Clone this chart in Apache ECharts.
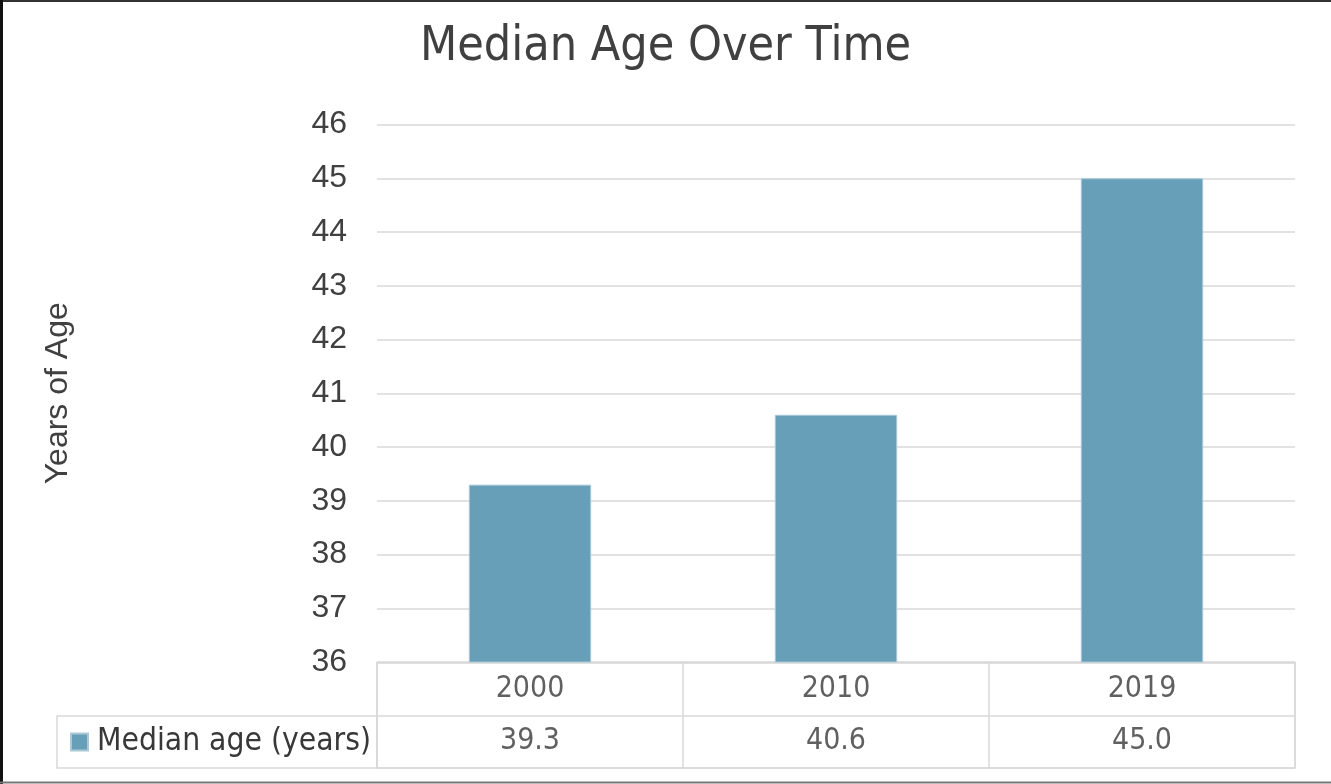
<!DOCTYPE html>
<html>
<head>
<meta charset="utf-8">
<title>Median Age Over Time</title>
<script src="https://cdn.jsdelivr.net/npm/echarts@6/dist/echarts.min.js"></script>
<style>
  html, body { margin: 0; padding: 0; background: #ffffff; }
  #chart { width: 1331px; height: 784px; }
</style>
</head>
<body>
<div id="chart"></div>
<script>
// Census years and the median age recorded for each
const years = ['2000', '2010', '2019'];
const medianAge = [39.3, 40.6, 45.0];
const seriesName = 'Median age (years)';
const yTicks = { min: 36, max: 46, interval: 1 };

const BAR = '#689fb8';
const GRID_LINE = '#d9d9d9';
const TEXT = '#404040';
const TABLE_TEXT = '#383838';
const NARROW = "'Liberation Sans Narrow', 'DejaVu Sans Condensed', 'Liberation Sans', sans-serif";
const SANS = "'Liberation Sans', Arial, sans-serif";

// Rows of the data table under the plot: year header and value row
const tableRows = ['value', 'header'];
const headerCells = years.map(y => [y, 'header', y]);
const valueCells = years.map((y, i) => [y, 'value', medianAge[i].toFixed(1)]);

const chart = echarts.init(document.getElementById('chart'), null, { renderer: 'canvas' });

chart.setOption({
  backgroundColor: '#ffffff',
  animation: false,
  title: {
    text: 'Median Age Over Time',
    left: 'center',
    top: 19,
    textStyle: { fontFamily: NARROW, fontSize: 48, fontWeight: 'normal', color: TEXT }
  },
  legend: {
    data: [seriesName],
    left: 70,
    top: 726,
    padding: 0,
    icon: 'rect',
    itemWidth: 17,
    itemHeight: 17,
    itemGap: 6,
    textStyle: { fontFamily: NARROW, fontSize: 31.5, color: TABLE_TEXT, lineHeight: 32, padding: [0, 0, 0, 4] }
  },
  grid: [
    // plot area
    { left: 377, right: 36, top: 124.5, bottom: 122, containLabel: false },
    // data table
    { left: 377, right: 36, top: 662.5, height: 105.5, show: true, borderColor: GRID_LINE, borderWidth: 1.5, backgroundColor: 'transparent' },
    // legend key cell of the table
    { left: 57, width: 320, top: 716, height: 52, show: true, borderColor: GRID_LINE, borderWidth: 1.5, backgroundColor: 'transparent' }
  ],
  xAxis: [
    {
      gridIndex: 0,
      type: 'category',
      data: years,
      axisLine: { show: false },
      axisTick: { show: false },
      axisLabel: { show: false },
      splitLine: { show: false }
    },
    {
      gridIndex: 1,
      type: 'category',
      data: years,
      axisLine: { show: false },
      axisTick: { show: false },
      axisLabel: { show: false },
      splitLine: { show: true, interval: 0, lineStyle: { color: GRID_LINE, width: 1.5 } }
    },
    { gridIndex: 2, type: 'value', show: false }
  ],
  yAxis: [
    {
      gridIndex: 0,
      type: 'value',
      min: yTicks.min,
      max: yTicks.max,
      interval: yTicks.interval,
      name: 'Years of Age',
      nameLocation: 'middle',
      nameRotate: 90,
      nameGap: 303,
      nameTextStyle: { fontFamily: SANS, fontSize: 32, color: TEXT },
      axisLine: { show: false },
      axisTick: { show: false },
      axisLabel: { fontFamily: SANS, fontSize: 32, color: TEXT, margin: 30, padding: [0, 0, 8, 0] },
      splitLine: { show: true, lineStyle: { color: GRID_LINE, width: 1.5 } }
    },
    {
      gridIndex: 1,
      type: 'category',
      data: tableRows,
      axisLine: { show: false },
      axisTick: { show: false },
      axisLabel: { show: false },
      splitLine: { show: true, interval: 0, lineStyle: { color: GRID_LINE, width: 1.5 } }
    },
    { gridIndex: 2, type: 'value', show: false }
  ],
  series: [
    {
      name: seriesName,
      type: 'bar',
      xAxisIndex: 0,
      yAxisIndex: 0,
      data: medianAge,
      barWidth: '40%',
      itemStyle: { color: BAR, borderColor: '#a9c9d8', borderWidth: 1 }
    },
    {
      name: 'table-header',
      type: 'scatter',
      xAxisIndex: 1,
      yAxisIndex: 1,
      data: headerCells,
      symbolSize: 0,
      silent: true,
      label: {
        show: true,
        position: 'inside',
        formatter: p => p.value[2],
        fontFamily: NARROW, fontSize: 30, color: TABLE_TEXT
      }
    },
    {
      name: 'table-values',
      type: 'scatter',
      xAxisIndex: 1,
      yAxisIndex: 1,
      data: valueCells,
      symbolSize: 0,
      silent: true,
      label: {
        show: true,
        position: 'inside',
        formatter: p => p.value[2],
        fontFamily: NARROW, fontSize: 30, color: TABLE_TEXT
      }
    }
  ],
  graphic: [
    // frame around the chart
    { type: 'line', shape: { x1: 0, y1: 1, x2: 1331, y2: 1 }, style: { stroke: '#333333', lineWidth: 2 }, silent: true },
    { type: 'line', shape: { x1: 1.5, y1: 0, x2: 1.5, y2: 784 }, style: { stroke: '#111111', lineWidth: 3 }, silent: true },
    { type: 'line', shape: { x1: 0, y1: 782.5, x2: 1331, y2: 782.5 }, style: { stroke: '#777777', lineWidth: 2 }, silent: true }
  ]
});
</script>
</body>
</html>
